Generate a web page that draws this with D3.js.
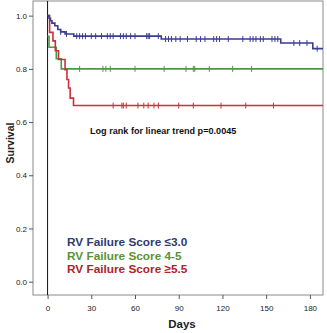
<!DOCTYPE html>
<html><head><meta charset="utf-8">
<script src="https://cdn.jsdelivr.net/npm/d3@7"></script>
<style>body{margin:0;background:#fff}svg{display:block}text{font-family:"Liberation Sans",Arial,sans-serif}</style>
</head><body><svg id="c" width="327" height="333"></svg>
<script>
// Kaplan-Meier steps: [day, survival]
const blueSteps = [[0,1.0],[1,0.99],[2,0.981],[3,0.972],[5,0.962],[7,0.948],[9,0.939],[12,0.931],[18,0.923],[78,0.912],[160,0.897],[182,0.876]];
const greenSteps = [[0,0.922],[1,0.881],[6,0.838],[9.4,0.80]];
const redSteps = [[0,1.0],[1.4,0.937],[3.7,0.905],[5.3,0.868],[7.5,0.835],[12,0.797],[13.3,0.76],[14.4,0.728],[15.5,0.69],[17.8,0.662]];
const blueCensor = [9,13,20,22,24,26,30,33,37,41,43,45,50,52,54,57,60,68,69,70,76,81,83,85,88,91,96,102,105,108,114,116,118,124,134,139,141,143,146,148,154,156,158,169,173,178,185];
const greenCensor = [22,38,40,43,60,80,95,100,101,111,127,140];
const redCensor = [45,51,52,54,62,66,69,73,76,90,100,119,136,155];
const endDay = 189;
const xTicks = [0,30,60,90,120,150,180];
const yTicks = [0,0.2,0.4,0.6,0.8,1.0];
const legendLabels = ["RV Failure Score \u22643.0","RV Failure Score 4-5","RV Failure Score \u22655.5"];
const lineColors = ["#3a3d92","#4a9a42","#cf2f3c"];
const legendColors = ["#2f3b6e","#5b9233","#ab2529"];

const svg = d3.select("#c");
const x = d3.scaleLinear().domain([-10,189]).range([33,323]);
const y = d3.scaleLinear().domain([-0.05,1.055]).range([295,1]);

// frame
svg.append("rect").attr("x",33).attr("y",1).attr("width",290).attr("height",294)
  .attr("fill","none").attr("stroke","#8a8a8a").attr("stroke-width",1);

// axes
const ya = svg.append("g").attr("transform","translate(33,0)")
  .call(d3.axisLeft(y).tickValues(yTicks).tickFormat(d3.format(".1f")).tickSize(4).tickPadding(2));
ya.select(".domain").remove();
ya.selectAll("line").attr("stroke","#555");
ya.selectAll("text").attr("font-size",8).attr("fill","#222").style("font-family","Liberation Sans, Arial, sans-serif");

const xa = svg.append("g").attr("transform","translate(0,295)")
  .call(d3.axisBottom(x).tickValues(xTicks).tickFormat(d3.format("d")).tickSize(4).tickPadding(6));
xa.select(".domain").remove();
xa.selectAll("line").attr("stroke","#555");
xa.selectAll("text").attr("font-size",8).attr("fill","#222").style("font-family","Liberation Sans, Arial, sans-serif");

// vertical line at day 0
svg.append("line").attr("x1",x(0)).attr("x2",x(0)).attr("y1",1).attr("y2",295)
  .attr("stroke","#111").attr("stroke-width",1);

const line = d3.line().x(d=>x(d[0])).y(d=>y(d[1])).curve(d3.curveStepAfter);
function survAt(steps, t){ let s = steps[0][1]; for(const p of steps){ if(p[0]<=t) s=p[1]; } return s; }
const series = [[blueSteps,blueCensor],[greenSteps,greenCensor],[redSteps,redCensor]];
// draw green, red then blue on top
[1,2,0].forEach(i=>{
  const [steps,cens] = series[i];
  const pts = steps.concat([[endDay, steps[steps.length-1][1]]]);
  svg.append("path").attr("d",line(pts)).attr("fill","none")
    .attr("stroke",lineColors[i]).attr("stroke-width",1.6);
  svg.append("g").selectAll("line").data(cens).join("line")
    .attr("x1",d=>x(d)).attr("x2",d=>x(d))
    .attr("y1",d=>y(survAt(steps,d))-3).attr("y2",d=>y(survAt(steps,d))+3)
    .attr("stroke",lineColors[i]).attr("stroke-width",1);
});

// annotation
svg.append("text").attr("x",90).attr("y",134).attr("font-size",9.1).attr("font-weight","bold")
  .attr("fill","#111").text("Log rank for linear trend p=0.0045");

// legend
legendLabels.forEach((t,i)=>{
  svg.append("text").attr("x",67).attr("y",246+i*13.5).attr("font-size",11.8).attr("font-weight","bold")
    .attr("fill",legendColors[i]).text(t);
});

// axis titles
svg.append("text").attr("x",182).attr("y",328).attr("text-anchor","middle").attr("font-size",11.5)
  .attr("font-weight","bold").attr("fill","#222").text("Days");
svg.append("text").attr("transform","translate(14,143) rotate(-90)").attr("text-anchor","middle")
  .attr("font-size",10.5).attr("font-weight","bold").attr("fill","#222").text("Survival");
</script></body></html>
